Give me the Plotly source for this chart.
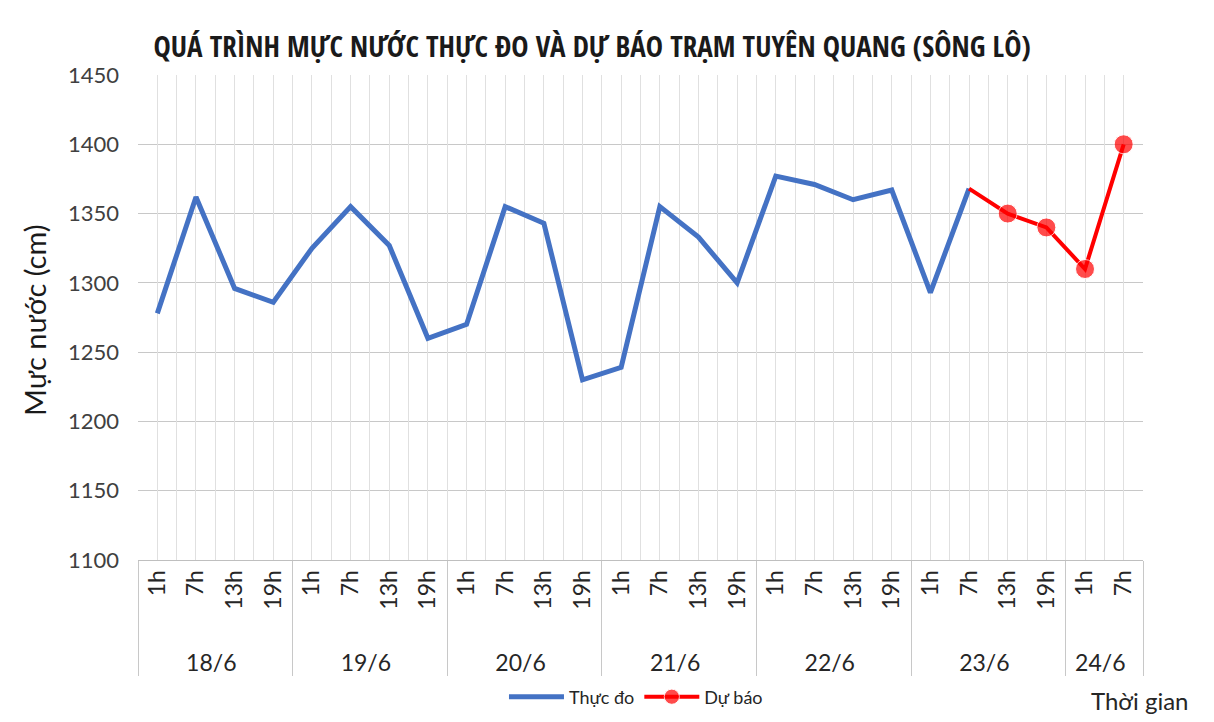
import plotly.graph_objects as go

days = ["18/6"] * 4 + ["19/6"] * 4 + ["20/6"] * 4 + ["21/6"] * 4 + ["22/6"] * 4 + ["23/6"] * 4 + ["24/6"] * 2
hours = ["1h", "7h", "13h", "19h"] * 6 + ["1h", "7h"]

observed = [1278, 1362, 1296, 1286, 1325, 1355, 1327, 1260,
            1270, 1355, 1343, 1230, 1239, 1355, 1333, 1300,
            1377, 1371, 1360, 1367, 1293, 1368]
forecast = [1368, 1350, 1340, 1310, 1400]
forecast_start = 21
forecast_marker = [0, 19, 19, 19, 19]

FONT = "Lato, 'Open Sans', sans-serif"
TITLE_FONT = "'Open Sans Condensed', 'Roboto Condensed', Lato, sans-serif"

# non-breaking padding lengthens the rotated hour labels so the day row sits lower
PAD = "\u00a0\u00a0\u00a0"
hour_labels = [PAD + h for h in hours]

fig = go.Figure()
fig.add_trace(go.Scatter(
    x=[days[:len(observed)], hour_labels[:len(observed)]], y=observed,
    mode="lines", name="Thực đo",
    line=dict(color="#4472C4", width=5),
))
fig.add_trace(go.Scatter(
    x=[days[forecast_start:], hour_labels[forecast_start:]], y=forecast,
    mode="lines+markers", name="Dự báo",
    line=dict(color="#FF0000", width=4),
    marker=dict(color="#FF0000", size=forecast_marker),
))
# overlay axis for vertical gridlines at category centers and boundaries
fig.add_trace(go.Scatter(x=[-0.5, len(hours) - 0.5], y=[None, None], xaxis="x2",
                         showlegend=False, hoverinfo="skip"))

fig.update_layout(
    width=1198, height=706,
    paper_bgcolor="white", plot_bgcolor="white",
    margin=dict(l=130, r=63, t=67, b=154, autoexpand=False),
    font=dict(family=FONT, color="#404040"),
    title=dict(text="<b>QUÁ TRÌNH MỰC NƯỚC THỰC ĐO VÀ DỰ BÁO TRẠM TUYÊN QUANG (SÔNG LÔ)</b>",
               x=0.4875, xanchor="center", y=0.945, yanchor="middle",
               font=dict(size=29, color="#1a1a1a", family=TITLE_FONT)),
    xaxis=dict(type="multicategory", showgrid=False, showline=True, linecolor="#bfbfbf",
               linewidth=1, ticks="", tickangle=-90,
               tickfont=dict(size=23, color="#262626"),
               showdividers=True, dividercolor="#c8c8c8", dividerwidth=1,
               range=[-0.5, len(hours) - 0.5], automargin=False),
    xaxis2=dict(overlaying="x", range=[-0.5, len(hours) - 0.5], tick0=-0.5, dtick=0.5,
                showgrid=True, gridcolor="#e0e0e0", gridwidth=1, showticklabels=False,
                zeroline=False, layer="below traces"),
    yaxis=dict(range=[1100, 1450], dtick=50, showgrid=True, gridcolor="#c8c8c8",
               zeroline=False, ticks="", ticklabelstandoff=18,
               tickfont=dict(size=22, color="#404040"), automargin=False),
    legend=dict(orientation="h", x=0.4955, xanchor="center", y=-0.2825, yanchor="middle",
                font=dict(size=18, color="#262626"), bgcolor="rgba(0,0,0,0)",
                itemwidth=55),
    annotations=[
        dict(text="Mực nước (cm)", xref="paper", yref="paper", x=-0.1025, y=0.495,
             xanchor="center", yanchor="middle", textangle=-90, showarrow=False,
             font=dict(size=29, color="#1a1a1a", family=FONT)),
        dict(text="Thời gian", xref="paper", yref="paper", x=0.997, y=-0.289,
             xanchor="center", yanchor="middle", showarrow=False,
             font=dict(size=24, color="#262626", family=FONT)),
    ],
)

fig.write_html("out.html")
